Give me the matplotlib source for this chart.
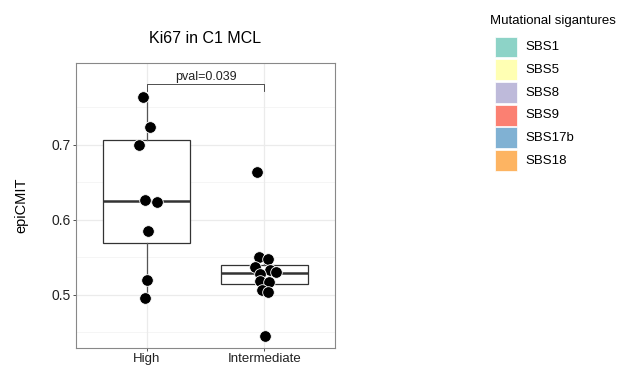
import matplotlib.pyplot as plt
import numpy as np
from matplotlib.patches import Rectangle

plt.rcParams['font.family'] = ['Liberation Sans', 'DejaVu Sans']

# data
groups = ['High', 'Intermediate']
high_vals = [0.764, 0.723, 0.700, 0.626, 0.624, 0.585, 0.519, 0.496]
high_jitter = [-0.034, 0.028, -0.062, -0.017, 0.088, 0.008, 0.0, -0.017]
inter_vals = [0.664, 0.550, 0.548, 0.537, 0.533, 0.530, 0.527, 0.518,
              0.517, 0.506, 0.504, 0.445]
inter_jitter = [-0.062, -0.042, 0.028, -0.079, 0.048, 0.099, -0.037, -0.034,
                0.037, -0.023, 0.028, 0.006]
pval_text = 'pval=0.039'
bracket_y = 0.781
bracket_foot = 0.771

sig_names = ['SBS1', 'SBS5', 'SBS8', 'SBS9', 'SBS17b', 'SBS18']
sig_colors = ['#8DD3C7', '#FFFFB3', '#BEBADA', '#FB8072', '#80B1D3', '#FDB462']

W, H = 620, 367
fig = plt.figure(figsize=(6.2, 3.67), dpi=100)
ax = fig.add_axes([0.1226, 0.052, 0.4177, 0.777])

# gridlines ggplot style
for v in [0.45, 0.55, 0.65, 0.75]:
    ax.axhline(v, color='#f2f2f2', lw=0.5, zorder=0)
for v in [0.5, 0.6, 0.7]:
    ax.axhline(v, color='#ebebeb', lw=0.9, zorder=0)
for x in [1, 2]:
    ax.axvline(x, color='#ebebeb', lw=0.9, zorder=0)

ax.boxplot([high_vals, inter_vals], positions=[1, 2], widths=0.74,
           showfliers=False, patch_artist=True,
           boxprops=dict(facecolor='white', edgecolor='#333333', lw=0.9),
           medianprops=dict(color='#333333', lw=1.8),
           whiskerprops=dict(color='#555555', lw=0.9),
           capprops=dict(lw=0),
           zorder=2)

ax.scatter(1 + np.array(high_jitter), high_vals, s=70, color='black',
           edgecolor='white', linewidth=0.6, zorder=3)
ax.scatter(2 + np.array(inter_jitter), inter_vals, s=70, color='black',
           edgecolor='white', linewidth=0.6, zorder=3)

# significance bracket
ax.plot([1, 1, 2, 2], [bracket_foot, bracket_y, bracket_y, bracket_foot],
        color='#333333', lw=0.6, zorder=1)
ax.text(1.5, bracket_y + 0.001, pval_text, ha='center', va='bottom',
        fontsize=9, color='#222222')

ax.set_xlim(0.4, 2.6)
ax.set_ylim(0.429, 0.809)
ax.set_xticks([1, 2])
ax.set_xticklabels(groups, fontsize=9.5, color='#222222')
ax.set_yticks([0.5, 0.6, 0.7])
ax.set_yticklabels(['0.5', '0.6', '0.7'], fontsize=10, color='#222222')
ax.tick_params(length=2, width=0.6, color='#333333', pad=1.5)
for s in ax.spines.values():
    s.set_color('#888888')
    s.set_linewidth(0.8)

ax.set_ylabel('epiCMIT', fontsize=10.5, labelpad=17)
ax.set_title('Ki67 in C1 MCL', fontsize=11.5, pad=14)

# legend drawn by hand in figure pixel positions
fig.text(490 / W, 1 - 21 / H, 'Mutational sigantures', fontsize=9.5,
         ha='left', va='center')
for i, (name, col) in enumerate(zip(sig_names, sig_colors)):
    top = 36.7 + i * 22.7
    fig.add_artist(Rectangle((495 / W, 1 - (top + 20.7) / H), 21.7 / W, 20.7 / H,
                             transform=fig.transFigure, facecolor=col,
                             edgecolor='white', lw=0.5))
    fig.text(525 / W, 1 - (top + 10.5) / H, name, fontsize=9.5,
             ha='left', va='center')

plt.savefig('out.png', dpi=100)
